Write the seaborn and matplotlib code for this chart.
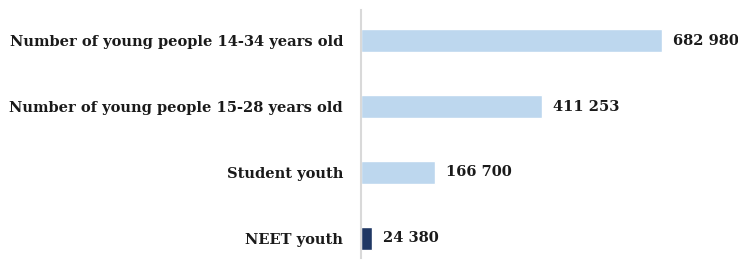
import matplotlib
matplotlib.use('Agg')
import matplotlib.pyplot as plt
import seaborn as sns
import pandas as pd

categories = ['Number of young people 14-34 years old',
              'Number of young people 15-28 years old',
              'Student youth',
              'NEET youth']
values = [682980, 411253, 166700, 24380]
colors = ['#BDD7EE', '#BDD7EE', '#BDD7EE', '#203864']

df = pd.DataFrame({'category': categories, 'value': values})

sns.set_style('white')
plt.rcParams['font.family'] = ['DejaVu Serif']

fig = plt.figure(figsize=(7.38, 2.63), dpi=100)
ax = fig.add_axes([361 / 738, 5 / 263, 377 / 738, 248 / 263])

sns.barplot(data=df, x='value', y='category', hue='category',
            palette=colors, legend=False, width=0.35, ax=ax, saturation=1)

ax.set_xlim(0, 855000)
ax.set_ylim(3.30, -0.47)
ax.set_xlabel('')
ax.set_ylabel('')
ax.set_xticks([])
for s in ['top', 'right', 'bottom']:
    ax.spines[s].set_visible(False)
ax.spines['left'].set_color('#D9D9D9')
ax.spines['left'].set_linewidth(1.5)
ax.tick_params(axis='y', length=0, pad=13)
for lbl in ax.get_yticklabels():
    lbl.set_fontweight('bold')
    lbl.set_fontsize(10.5)
    lbl.set_color('#1a1a1a')

for cont, v in zip(ax.containers, values):
    ax.bar_label(cont, labels=[f'{v:,}'.replace(',', ' ')], padding=8,
                 fontsize=10.5, fontweight='bold', color='#1a1a1a')

plt.savefig('out.png', dpi=100)
plt.close()
